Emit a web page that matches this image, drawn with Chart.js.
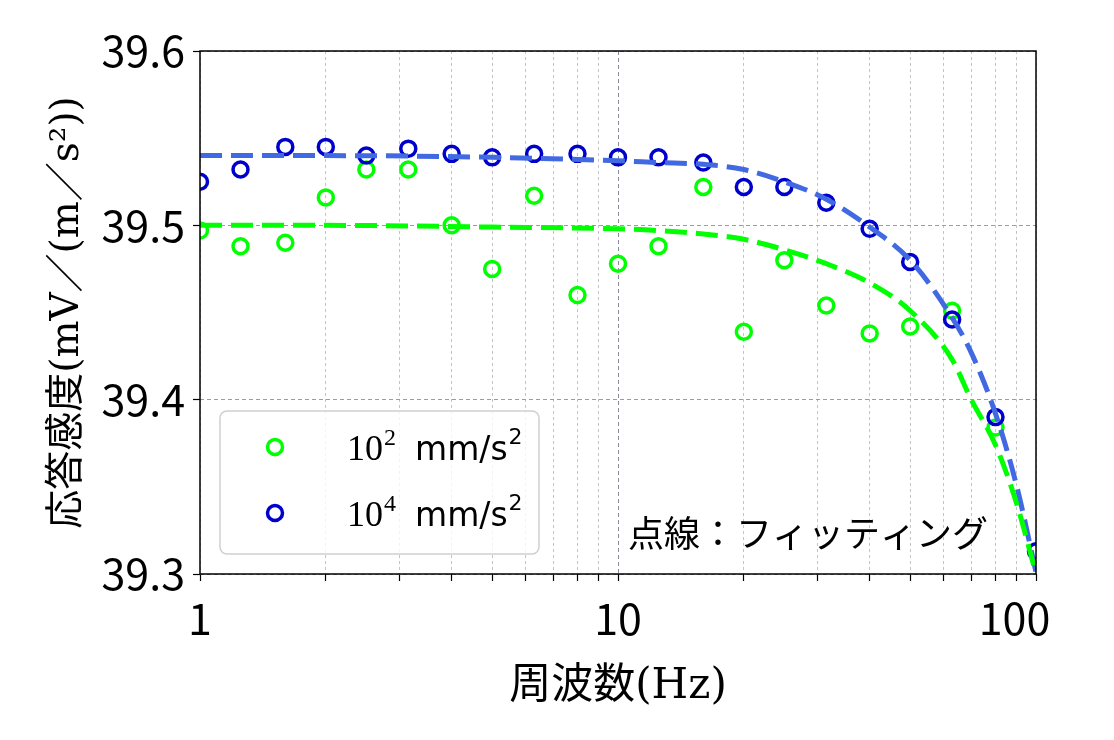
<!DOCTYPE html>
<html>
<head>
<meta charset="utf-8">
<script src="https://cdn.jsdelivr.net/npm/chart.js@4/dist/chart.umd.min.js"></script>
<style>
  html, body { margin: 0; padding: 0; background: #fff; }
  #wrap { width: 1114px; height: 740px; }
</style>
</head>
<body>
<div id="wrap"><canvas id="grafico" width="1114" height="740"></canvas></div>
<script>
// Frequências medidas (Hz) - 1/3 de oitava
const frequencias = [1, 1.25, 1.6, 2, 2.5, 3.15, 4, 5, 6.3, 8, 10, 12.5, 16, 20, 25, 31.5, 40, 50, 63, 80, 100];

// Sensibilidade medida a 10^2 mm/s^2 (verde) - último ponto fora do gráfico
const medida1e2 = [39.497, 39.488, 39.490, 39.516, 39.532, 39.532, 39.500, 39.475, 39.517, 39.460, 39.478,
                   39.488, 39.522, 39.439, 39.480, 39.454, 39.438, 39.442, 39.451, 39.384, null];

// Sensibilidade medida a 10^4 mm/s^2 (azul)
const medida1e4 = [39.525, 39.532, 39.545, 39.545, 39.540, 39.544, 39.541, 39.539, 39.541, 39.541, 39.539,
                   39.539, 39.536, 39.522, 39.522, 39.513, 39.498, 39.479, 39.446, 39.390, 39.313];

// Curvas de ajuste
const freqAjuste = [1, 2, 5, 10, 12.5, 16, 20, 25, 31.5, 40, 50, 63, 70, 80, 90, 100];
const ajuste1e2 = [39.500, 39.500, 39.499, 39.498, 39.497, 39.495, 39.492, 39.486, 39.478, 39.467, 39.451,
                   39.423, 39.400, 39.374, 39.340, 39.300];
const ajuste1e4 = [39.540, 39.540, 39.539, 39.537, 39.536, 39.535, 39.532, 39.525, 39.515, 39.499, 39.480,
                   39.447, 39.427, 39.392, 39.350, 39.301];

// Eixos
const ticksX = [1, 2, 3, 4, 5, 6, 7, 8, 9, 10, 20, 30, 40, 50, 60, 70, 80, 90, 100];
const rotulosX = { 1: '1', 10: '10', 100: '100\u2002\u2002' };
const ticksY = [39.3, 39.4, 39.5, 39.6];
const expoentes = ['2', '4'];

const tituloX = '周波数(Hz)';
const tituloY = '応答感度(mV／(m／s²))';
const notaAjuste = '点線：フィッティング';

const VERDE = '#00ff00';
const AZUL_PONTO = '#0000cc';
const AZUL_LINHA = '#4169e1';

function pares(xs, ys) {
  return xs.map((x, i) => ({ x: x, y: ys[i] }));
}

const legendaPlugin = {
  id: 'legendaManual',
  afterDraw(chart) {
    const ctx = chart.ctx;
    const area = chart.chartArea;
    ctx.save();

    // moldura
    ctx.strokeStyle = '#000';
    ctx.lineWidth = 1.5;
    ctx.setLineDash([]);
    ctx.strokeRect(area.left, area.top, area.right - area.left, area.bottom - area.top);

    // caixa da legenda
    const bx = area.left + 20, by = area.top + 360, bw = 319, bh = 143;
    ctx.beginPath();
    ctx.roundRect(bx, by, bw, bh, 7);
    ctx.fillStyle = 'rgba(255,255,255,0.8)';
    ctx.fill();
    ctx.strokeStyle = '#d0d0d0';
    ctx.lineWidth = 1.5;
    ctx.stroke();

    const cores = [VERDE, AZUL_PONTO];
    expoentes.forEach((e, i) => {
      const cy = by + 36 + i * 66;
      const base = cy + 13;
      ctx.beginPath();
      ctx.arc(bx + 55, cy, 7.5, 0, Math.PI * 2);
      ctx.strokeStyle = cores[i];
      ctx.lineWidth = 3.5;
      ctx.stroke();

      ctx.fillStyle = '#000';
      ctx.textBaseline = 'alphabetic';
      ctx.textAlign = 'left';
      let x = bx + 127;
      ctx.font = '36px "Liberation Serif"';
      ctx.fillText('10', x, base);
      x += ctx.measureText('10').width + 1;
      ctx.font = '24px "Liberation Serif"';
      ctx.fillText(e, x, base - 15);
      x = bx + 195;
      ctx.font = '33px "DejaVu Sans"';
      ctx.fillText('mm/s', x, base);
      x += ctx.measureText('mm/s').width + 1;
      ctx.font = '22px "DejaVu Sans"';
      ctx.fillText('2', x, base - 16);
    });

    // nota
    ctx.font = '36px "Noto Sans CJK JP"';
    ctx.fillStyle = '#000';
    ctx.textAlign = 'left';
    ctx.fillText(notaAjuste, 628, 547);
    ctx.restore();
  }
};

const ctx = document.getElementById('grafico').getContext('2d');
new Chart(ctx, {
  type: 'line',
  data: {
    datasets: [
      {
        label: 'ajuste 10^2',
        data: pares(freqAjuste, ajuste1e2),
        borderColor: VERDE,
        borderWidth: 5,
        borderDash: [22, 9],
        pointRadius: 0,
        fill: false,
        cubicInterpolationMode: 'monotone',
        order: 0
      },
      {
        label: 'ajuste 10^4',
        data: pares(freqAjuste, ajuste1e4),
        borderColor: AZUL_LINHA,
        borderWidth: 5,
        borderDash: [22, 9],
        pointRadius: 0,
        fill: false,
        cubicInterpolationMode: 'monotone',
        order: 1
      },
      {
        label: '10⁴ mm/s²',
        data: pares(frequencias, medida1e4),
        showLine: false,
        pointRadius: 7.5,
        pointBorderWidth: 3.5,
        pointBorderColor: AZUL_PONTO,
        pointBackgroundColor: 'rgba(0,0,0,0)',
        order: 2
      },
      {
        label: '10² mm/s²',
        data: pares(frequencias, medida1e2),
        showLine: false,
        pointRadius: 7.5,
        pointBorderWidth: 3.5,
        pointBorderColor: VERDE,
        pointBackgroundColor: 'rgba(0,0,0,0)',
        order: 3
      }
    ]
  },
  options: {
    responsive: false,
    animation: false,
    events: [],
    devicePixelRatio: 1,
    layout: { padding: { top: 51, right: 78, left: 0, bottom: 0 } },
    plugins: {
      legend: { display: false },
      tooltip: { enabled: false }
    },
    scales: {
      x: {
        type: 'logarithmic',
        min: 1,
        max: 100,
        afterBuildTicks: function (axis) {
          axis.ticks = ticksX.map(v => ({ value: v }));
        },
        afterFit: function (axis) {
          axis.height = 166;
        },
        ticks: {
          autoSkip: false,
          maxRotation: 0,
          padding: 12,
          color: '#000',
          font: { family: '"Noto Sans CJK JP"', size: 43 },
          callback: function (value) {
            return rotulosX[value] || '';
          }
        },
        grid: {
          color: function (c) {
            return c.tick && c.tick.value === 10 ? '#8a8a9a' : '#c4c4cc';
          },
          lineWidth: 1,
          tickLength: 7,
          tickColor: '#000',
          tickWidth: 1.2
        },
        border: {
          display: false,
          dash: function (c) {
            return c.tick && c.tick.value === 10 ? [4, 3] : [3, 3];
          }
        },
        title: {
          display: true,
          text: tituloX,
          color: '#000',
          font: { family: '"DejaVu Serif", "Noto Sans CJK JP"', size: 42 },
          padding: { top: 0, bottom: 28 }
        }
      },
      y: {
        type: 'linear',
        min: 39.3,
        max: 39.6,
        afterBuildTicks: function (axis) {
          axis.ticks = ticksY.map(v => ({ value: v }));
        },
        afterFit: function (axis) {
          axis.width = 200;
        },
        ticks: {
          padding: 8,
          color: '#000',
          font: { family: '"Noto Sans CJK JP"', size: 43 },
          callback: function (value) {
            return Number(value).toFixed(1);
          }
        },
        grid: {
          color: '#9a9aaa',
          lineWidth: 1,
          tickLength: 7,
          tickColor: '#000',
          tickWidth: 1.2
        },
        border: {
          display: false,
          dash: [4, 3]
        },
        title: {
          display: true,
          text: tituloY,
          color: '#000',
          font: { family: '"DejaVu Serif", "Noto Sans CJK JP"', size: 39 },
          padding: { top: 44, bottom: 0 }
        }
      }
    }
  },
  plugins: [legendaPlugin]
});
</script>
</body>
</html>
